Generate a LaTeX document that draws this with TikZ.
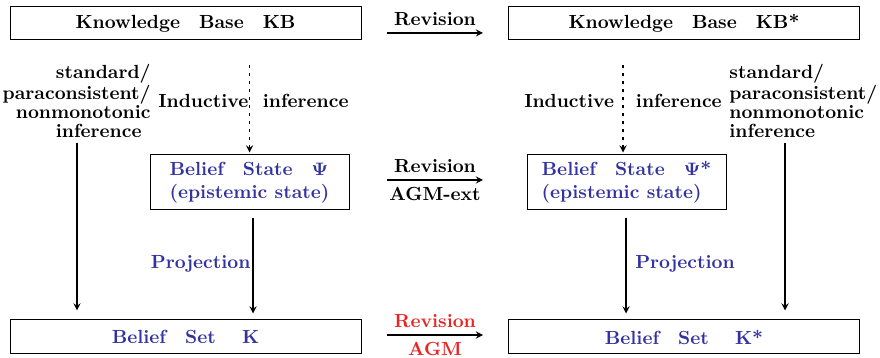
\documentclass[tikz,border=0pt]{standalone}
\usepackage{amsmath}
\usetikzlibrary{arrows}
\usetikzlibrary{positioning}
\definecolor{stateblue}{RGB}{50,50,160}
\definecolor{revred}{RGB}{235,35,35}

\begin{document}
\begin{tikzpicture}[x=0.5pt,y=-0.5pt,
    font=\fontsize{9.5}{11.5}\selectfont\bfseries,
    box/.style={draw, line width=0.5pt, inner sep=0pt},
    wide/.style={box, minimum width=175.5pt, minimum height=16.5pt},
    state/.style={box, text=stateblue, align=left,
                  minimum width=99.5pt, minimum height=27.5pt},
    infer/.style={inner sep=0pt, font=\fontsize{9.5}{9.3}\selectfont\bfseries},
    arr/.style={-stealth, line width=0.6pt},
    darr/.style={arr, dash pattern=on 1.5pt off 2.5pt}]
  \useasboundingbox (0,0) rectangle (880,358);

  % boxes
  \node[wide] (kb)  at (185.5,23.5) {Knowledge\quad Base\quad KB};
  \node[wide] (kbs) at (684,23.5)   {Knowledge\quad Base\quad KB*};
  \node[state] (bs)  at (249.5,182.5) {Belief\quad State\quad $\mathbf{\Psi}$\\(epistemic state)};
  \node[state] (bss) at (626.5,182.5) {Belief\quad State\quad $\mathbf{\Psi}$*\\(epistemic state)};
  \node[wide, minimum height=17pt, text=stateblue] (bset)  at (185.5,337) {Belief\quad Set\quad\ K};
  \node[wide, minimum height=17pt, text=stateblue] (bsets) at (684,337)   {Belief\quad Set\quad\ K*};

  % inference labels
  \node[infer, align=right, anchor=east] (inf1) at (151,101)
    {standard/\\paraconsistent/\\nonmonotonic\\inference\hspace*{4.5pt}};
  \node[infer, align=left, anchor=west] (inf2) at (729,101)
    {standard/\\paraconsistent/\\nonmonotonic\\inference};

  \coordinate (r1s) at (387,33);  \coordinate (r1e) at (483,33);
  \coordinate (r2s) at (387,180); \coordinate (r2e) at (483,180);
  \coordinate (r3s) at (387,335); \coordinate (r3e) at (483,335);
  \coordinate (in1) at (249.5,65); \coordinate (in2) at (623,65);
  \coordinate (sp1) at (77,143);   \coordinate (sp2) at (785,143);
  \coordinate (pj1) at (253,218);  \coordinate (pj2) at (626,218);

  % revision
  \draw[arr] (r1s) -- node[above] {Revision} (r1e);
  \draw[arr] (r2s) -- node[above] {Revision} node[below] {AGM-ext} (r2e);
  \draw[arr] (r3s) -- node[above, text=revred] {Revision}
                      node[below, text=revred] {AGM} (r3e);

  % inductive inference
  \draw[darr, shorten >=1pt] (in1) -- node[pos=0.4, xshift=2pt] {Inductive\ \ inference} (in1 |- bs.north);
  \draw[darr, shorten >=1pt] (in2) -- node[pos=0.4] {Inductive\ \ \ inference} (in2 |- bss.north);

  % standard inference
  \draw[arr, shorten >=4.5pt] (sp1) -- (sp1 |- bset.north);
  \draw[arr, shorten >=4.5pt] (sp2) -- (sp2 |- bsets.north);

  % projection
  \draw[arr, shorten >=3pt] (pj1) -- node[pos=0.45, left, inner sep=1pt, text=stateblue] {Projection} (pj1 |- bset.north);
  \draw[arr, shorten >=3pt] (pj2) -- node[pos=0.45, right, xshift=1pt, text=stateblue] {Projection} (pj2 |- bsets.north);
\end{tikzpicture}
\end{document}
